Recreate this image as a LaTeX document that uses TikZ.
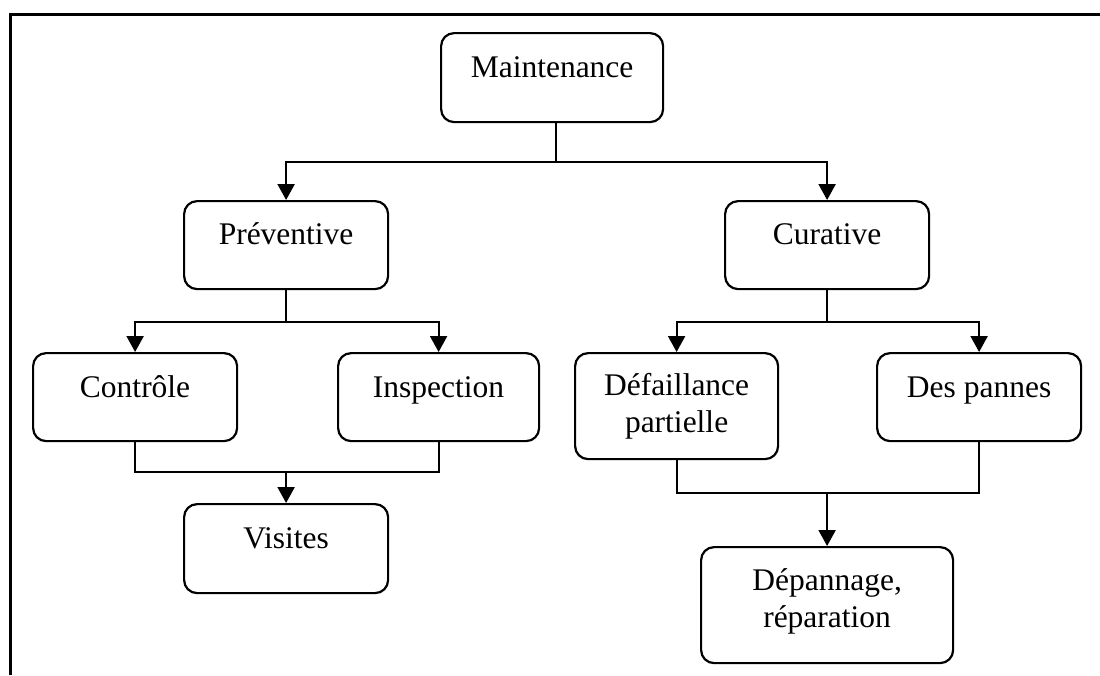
\documentclass[tikz,border=0pt]{standalone}
\usepackage{fontspec}
\setmainfont{Liberation Serif}
\usetikzlibrary{arrows.meta}

\tikzset{
  box/.style={draw, line width=2.2pt, rounded corners=13pt, inner sep=0pt,
              anchor=north west, fill=white},
  txt/.style={anchor=north, inner sep=0pt, align=center,
              font=\fontsize{31.5pt}{37pt}\selectfont,
              execute at begin node={\rule{0pt}{24pt}}},
  conn/.style={line width=2.2pt},
  arr/.style={line width=2.2pt, -{Triangle[length=16pt,width=17pt]}},
}

\begin{document}
\begin{tikzpicture}[x=1pt,y=-1pt]
\useasboundingbox (0,0) rectangle (1100,675);

% open frame: top and left sides
\draw[line width=3pt] (10,675) -- (10,14) -- (1100,14);

% boxes: top-left corner, width, height
\node[box, minimum width=222pt, minimum height=89pt]  (m)  at (440,32)  {};
\node[box, minimum width=204pt, minimum height=88pt]  (p)  at (183,200) {};
\node[box, minimum width=204pt, minimum height=88pt]  (c)  at (724,200) {};
\node[box, minimum width=204pt, minimum height=88pt]  (k)  at (32,352)  {};
\node[box, minimum width=201pt, minimum height=88pt]  (i)  at (337,352) {};
\node[box, minimum width=204pt, minimum height=89pt]  (v)  at (183,503) {};
\node[box, minimum width=203pt, minimum height=106pt] (d)  at (574,352) {};
\node[box, minimum width=204pt, minimum height=88pt]  (dp) at (876,352) {};
\node[box, minimum width=252pt, minimum height=116pt] (r)  at (700,546) {};

% labels
\node[txt] (mt)  at ([yshift=-21pt]m.north)  {Maintenance};
\node[txt] (pt)  at ([yshift=-20pt]p.north)  {Préventive};
\node[txt] (ct)  at ([yshift=-20pt]c.north)  {Curative};
\node[txt] (kt)  at ([yshift=-21pt]k.north)  {Contrôle};
\node[txt] (it)  at ([yshift=-21pt]i.north)  {Inspection};
\node[txt] (vt)  at ([yshift=-21pt]v.north)  {Visites};
\node[txt] (dt)  at ([yshift=-21pt]d.north)  {Défaillance\\partielle};
\node[txt] (dpt) at ([yshift=-21pt]dp.north) {Des pannes};
\node[txt] (rt)  at ([yshift=-22pt]r.north)  {Dépannage,\\réparation};

% Maintenance -> Préventive / Curative
\draw[conn] ([xshift=4pt]m.south) -- ++(0,39) coordinate (mj);
\draw[arr] (mj) -| (p.north);
\draw[arr] (mj) -| (c.north);

% Préventive -> Contrôle / Inspection
\draw[conn] (p.south) -- ++(0,32) coordinate (pj);
\draw[arr] (pj) -| (k.north);
\draw[arr] (pj) -| (i.north);

% Contrôle + Inspection -> Visites
\coordinate (vj) at (v.north |- 0,472);
\draw[conn] (k.south) -- (k.south |- vj) -- (i.south |- vj) -- (i.south);
\draw[arr] (vj) -- (v.north);

% Curative -> Défaillance partielle / Des pannes
\draw[conn] (c.south) -- ++(0,32) coordinate (cj);
\draw[arr] (cj) -| (d.north);
\draw[arr] (cj) -| (dp.north);

% Défaillance partielle + Des pannes -> Dépannage, réparation
\coordinate (rj) at (r.north |- 0,493);
\draw[conn] (d.south) -- (d.south |- rj) -- (dp.south |- rj) -- (dp.south);
\draw[arr] (rj) -- (r.north);
\end{tikzpicture}
\end{document}
